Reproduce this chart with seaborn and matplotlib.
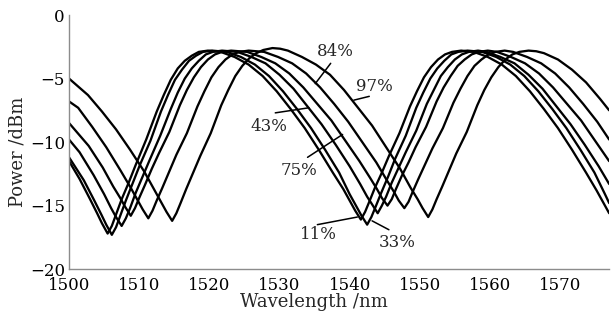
import matplotlib
matplotlib.use("Agg")
import matplotlib.pyplot as plt
import seaborn as sns
import pandas as pd

# --- data (wavelength nm, power dBm) ---

wl_11 = [1500.0, 1501.5, 1503.0, 1504.0, 1504.7, 1505.5, 1506.1, 1506.7, 1507.5, 1508.5,
         1509.5, 1511.0, 1512.5, 1513.5, 1514.5, 1515.5, 1516.5, 1517.5, 1518.5, 1519.8,
         1521.6, 1523.6, 1525.6, 1527.6, 1529.6, 1531.6, 1533.6, 1535.6, 1537.6, 1539.1,
         1540.1, 1540.8, 1541.6, 1542.2, 1542.8, 1543.6, 1544.6, 1545.6, 1547.1, 1548.6,
         1549.6, 1550.6, 1551.6, 1552.6, 1553.6, 1554.6, 1555.9, 1557.7, 1559.7, 1561.7,
         1563.7, 1565.7, 1567.7, 1569.7, 1571.7, 1573.7, 1575.2, 1576.2, 1577.0]
p_11 = [-11.5, -12.9, -14.5, -15.6, -16.4, -17.2, -16.6, -15.7, -14.5, -13.2,
        -11.8, -9.8, -7.6, -6.3, -5.1, -4.2, -3.6, -3.2, -2.9, -2.8,
        -2.9, -3.3, -3.9, -4.8, -6.0, -7.4, -8.9, -10.6, -12.4, -13.7,
        -14.7, -15.4, -16.1, -15.5, -14.7, -13.6, -12.4, -11.1, -9.3, -7.2,
        -6.0, -4.9, -4.1, -3.5, -3.1, -2.9, -2.8, -2.9, -3.3, -3.9,
        -4.8, -6.0, -7.4, -8.9, -10.6, -12.4, -13.8, -14.8, -15.6]

wl_33 = [1500.0, 1502.1, 1503.6, 1504.6, 1505.3, 1506.1, 1506.7, 1507.3, 1508.1, 1509.1,
         1510.1, 1511.6, 1513.1, 1514.1, 1515.1, 1516.1, 1517.1, 1518.1, 1519.1, 1520.4,
         1522.5, 1524.5, 1526.5, 1528.5, 1530.5, 1532.5, 1534.5, 1536.5, 1538.5, 1540.0,
         1541.0, 1541.7, 1542.5, 1543.1, 1543.7, 1544.5, 1545.5, 1546.5, 1548.0, 1549.5,
         1550.5, 1551.5, 1552.5, 1553.5, 1554.5, 1555.5, 1556.8, 1558.9, 1560.9, 1562.9,
         1564.9, 1566.9, 1568.9, 1570.9, 1572.9, 1574.9, 1576.4, 1577.0]
p_33 = [-11.2, -13.0, -14.6, -15.7, -16.5, -17.3, -16.7, -15.8, -14.6, -13.2,
        -11.8, -9.9, -7.6, -6.3, -5.1, -4.3, -3.6, -3.2, -2.9, -2.8,
        -2.9, -3.3, -3.9, -4.8, -6.0, -7.4, -8.9, -10.6, -12.4, -14.1,
        -15.1, -15.8, -16.5, -15.9, -15.1, -14.0, -12.7, -11.3, -9.5, -7.3,
        -6.1, -5.0, -4.2, -3.6, -3.1, -2.9, -2.8, -2.9, -3.3, -3.9,
        -4.8, -6.0, -7.4, -8.9, -10.6, -12.4, -14.1, -14.8]

wl_43 = [1500.0, 1501.5, 1503.5, 1505.0, 1506.0, 1506.7, 1507.5, 1508.1, 1508.7, 1509.5,
         1510.5, 1511.5, 1513.0, 1514.5, 1515.5, 1516.5, 1517.5, 1518.5, 1519.5, 1520.5,
         1521.8, 1524.0, 1526.0, 1528.0, 1530.0, 1532.0, 1534.0, 1536.0, 1538.0, 1540.0,
         1541.5, 1542.5, 1543.2, 1544.0, 1544.6, 1545.2, 1546.0, 1547.0, 1548.0, 1549.5,
         1551.0, 1552.0, 1553.0, 1554.0, 1555.0, 1556.0, 1557.0, 1558.3, 1559.5, 1561.5,
         1563.5, 1565.5, 1567.5, 1569.5, 1571.5, 1573.5, 1575.5, 1577.0]
p_43 = [-9.8, -10.8, -12.6, -14.1, -15.2, -15.9, -16.6, -16.0, -15.2, -14.0,
        -12.7, -11.4, -9.5, -7.4, -6.1, -5.0, -4.2, -3.6, -3.1, -2.9,
        -2.8, -2.9, -3.3, -3.8, -4.7, -5.8, -7.2, -8.6, -10.2, -11.9,
        -13.3, -14.3, -14.9, -15.6, -15.0, -14.3, -13.2, -12.0, -10.8, -9.1,
        -7.0, -5.9, -4.8, -4.1, -3.5, -3.1, -2.9, -2.8, -2.9, -3.3,
        -3.8, -4.7, -5.8, -7.2, -8.6, -10.2, -11.9, -13.3]

wl_75 = [1500.0, 1502.8, 1504.8, 1506.3, 1507.3, 1508.0, 1508.8, 1509.4, 1510.0, 1510.8,
         1511.8, 1512.8, 1514.3, 1515.8, 1516.8, 1517.8, 1518.8, 1519.8, 1520.8, 1521.8,
         1523.1, 1525.4, 1527.4, 1529.4, 1531.4, 1533.4, 1535.4, 1537.4, 1539.4, 1541.4,
         1542.9, 1543.9, 1544.6, 1545.4, 1546.0, 1546.6, 1547.4, 1548.4, 1549.4, 1550.9,
         1552.4, 1553.4, 1554.4, 1555.4, 1556.4, 1557.4, 1558.4, 1559.7, 1561.0, 1563.0,
         1565.0, 1567.0, 1569.0, 1571.0, 1573.0, 1575.0, 1577.0]
p_75 = [-8.5, -10.3, -12.0, -13.5, -14.4, -15.1, -15.8, -15.2, -14.4, -13.4,
        -12.1, -10.9, -9.2, -7.1, -5.9, -4.9, -4.1, -3.5, -3.1, -2.9,
        -2.8, -2.9, -3.3, -3.8, -4.6, -5.7, -7.0, -8.3, -9.9, -11.5,
        -12.8, -13.7, -14.4, -15.0, -14.5, -13.7, -12.7, -11.6, -10.4, -8.8,
        -6.8, -5.7, -4.8, -4.0, -3.5, -3.1, -2.9, -2.8, -2.9, -3.3,
        -3.8, -4.6, -5.7, -7.0, -8.3, -9.9, -11.5]

wl_84 = [1500.0, 1501.3, 1503.3, 1505.3, 1507.3, 1508.8, 1509.8, 1510.5, 1511.3, 1511.9,
         1512.5, 1513.3, 1514.3, 1515.3, 1516.8, 1518.3, 1519.3, 1520.3, 1521.3, 1522.3,
         1523.3, 1524.3, 1525.6, 1527.8, 1529.8, 1531.8, 1533.8, 1535.8, 1537.8, 1539.8,
         1541.8, 1543.8, 1545.3, 1546.3, 1547.0, 1547.8, 1548.4, 1549.0, 1549.8, 1550.8,
         1551.8, 1553.3, 1554.8, 1555.8, 1556.8, 1557.8, 1558.8, 1559.8, 1560.8, 1562.1,
         1563.3, 1565.3, 1567.3, 1569.3, 1571.3, 1573.3, 1575.3, 1577.0]
p_84 = [-6.8, -7.3, -8.8, -10.4, -12.2, -13.6, -14.6, -15.3, -16.0, -15.4,
        -14.6, -13.6, -12.3, -11.0, -9.3, -7.2, -6.0, -4.9, -4.1, -3.5,
        -3.1, -2.9, -2.8, -2.9, -3.3, -3.8, -4.6, -5.7, -7.0, -8.4,
        -10.0, -11.6, -13.0, -13.9, -14.6, -15.2, -14.7, -13.9, -12.9, -11.7,
        -10.5, -8.9, -6.9, -5.8, -4.8, -4.0, -3.5, -3.1, -2.9, -2.8,
        -2.9, -3.3, -3.8, -4.6, -5.7, -7.0, -8.4, -9.8]

wl_97 = [1500.0, 1502.7, 1504.7, 1506.7, 1508.7, 1510.7, 1512.2, 1513.2, 1513.9, 1514.7,
         1515.3, 1515.9, 1516.7, 1517.7, 1518.7, 1520.2, 1521.7, 1522.7, 1523.7, 1524.7,
         1525.7, 1526.7, 1527.7, 1529.0, 1530.1, 1531.2, 1533.2, 1535.2, 1537.2, 1539.2,
         1541.2, 1543.2, 1545.2, 1547.2, 1548.7, 1549.7, 1550.4, 1551.2, 1551.8, 1552.4,
         1553.2, 1554.2, 1555.2, 1556.7, 1558.2, 1559.2, 1560.2, 1561.2, 1562.2, 1563.2,
         1564.2, 1565.5, 1566.6, 1567.7, 1569.7, 1571.7, 1573.7, 1575.7, 1577.0]
p_97 = [-5.0, -6.3, -7.6, -9.0, -10.6, -12.3, -13.8, -14.8, -15.5, -16.2,
        -15.6, -14.8, -13.7, -12.4, -11.1, -9.3, -7.1, -5.9, -4.8, -4.0,
        -3.4, -3.0, -2.75, -2.6, -2.65, -2.8, -3.3, -3.9, -4.7, -5.9,
        -7.3, -8.7, -10.4, -12.1, -13.6, -14.5, -15.2, -15.9, -15.3, -14.5,
        -13.5, -12.2, -10.9, -9.2, -7.1, -5.9, -4.9, -4.1, -3.5, -3.1,
        -2.9, -2.8, -2.85, -3.0, -3.5, -4.3, -5.3, -6.6, -7.5]

ratios = ["11%", "33%", "43%", "75%", "84%", "97%"]
wavelengths = [wl_11, wl_33, wl_43, wl_75, wl_84, wl_97]
powers = [p_11, p_33, p_43, p_75, p_84, p_97]

# label text position and leader line (start -> end on the curve)
label_xy = [(1535.6, -17.3), (1546.8, -17.9), (1528.5, -8.8),
            (1532.8, -12.2), (1538.0, -2.9), (1543.5, -5.6)]
leader_from = [(1535.4, -16.5), (1545.6, -16.9), (1529.4, -7.7),
               (1534.0, -11.2), (1537.3, -3.8), (1542.8, -6.4)]
leader_to = [(1541.1, -15.9), (1543.2, -16.2), (1534.2, -7.3),
             (1539.0, -9.4), (1535.1, -5.4), (1540.6, -6.7)]

frames = []
for r, w, p in zip(ratios, wavelengths, powers):
    frames.append(pd.DataFrame({"wl": w, "power": p, "ratio": r}))
df = pd.concat(frames, ignore_index=True)

# --- plot ---
sns.set_style("white")
plt.rcParams["font.family"] = ["DejaVu Serif"]

fig = plt.figure(figsize=(6.11, 3.2), dpi=100)
ax = fig.add_axes([0.113, 0.159, 0.884, 0.794])

sns.lineplot(data=df, x="wl", y="power", units="ratio", estimator=None,
             color="black", linewidth=1.65, sort=False, ax=ax)
for ln in ax.get_lines():
    ln.set_solid_joinstyle("round")

for txt, (tx, ty), (x0, y0), (x1, y1) in zip(ratios, label_xy, leader_from, leader_to):
    ax.plot([x0, x1], [y0, y1], color="black", linewidth=1.1)
    ax.text(tx, ty, txt, ha="center", va="center", fontsize=12)

ax.set_xlim(1500, 1577)
ax.set_ylim(-20, 0)
ax.set_xticks([1500, 1510, 1520, 1530, 1540, 1550, 1560, 1570])
ax.set_yticks([-20, -15, -10, -5, 0])
ax.set_yticklabels(["\u221220", "\u221215", "\u221210", "\u22125", "0"])
ax.set_xlabel("Wavelength /nm", fontsize=13)
ax.set_ylabel("Power /dBm", fontsize=13)
ax.xaxis.set_label_coords(0.454, -0.094)
ax.yaxis.set_label_coords(-0.078, 0.46)

sns.despine(ax=ax)
for s in ["left", "bottom"]:
    ax.spines[s].set_color("#8c8c8c")
    ax.spines[s].set_linewidth(1.0)
ax.tick_params(direction="in", length=4, width=1, color="#8c8c8c",
               labelsize=12, labelcolor="black")
ax.tick_params(axis="x", pad=6)
ax.tick_params(axis="y", pad=3)

fig.savefig("out.png", dpi=100)
